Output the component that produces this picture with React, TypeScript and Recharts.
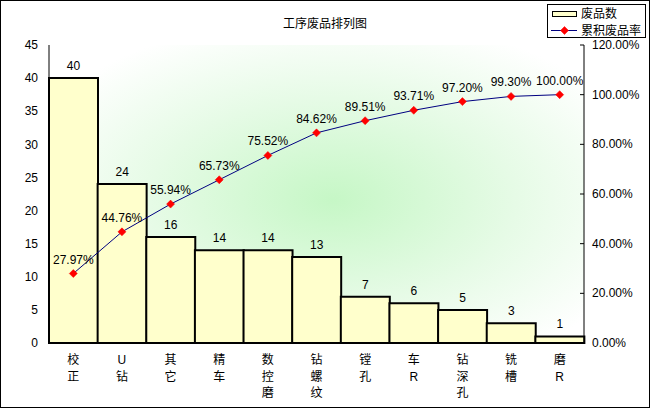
import { Bar, CartesianGrid, ComposedChart, LabelList, Legend, Line, XAxis, YAxis } from "recharts";

const FONT = "'Liberation Sans', 'Noto Sans CJK SC', sans-serif";

const categories = ["校正", "U钻", "其它", "精车", "数控磨", "钻螺纹", "镗孔", "车R", "钻深孔", "铣槽", "磨R"];
const counts = [40, 24, 16, 14, 14, 13, 7, 6, 5, 3, 1];
const rates = [27.97, 44.76, 55.94, 65.73, 75.52, 84.62, 89.51, 93.71, 97.2, 99.3, 100.0];
const countTicks = [0, 5, 10, 15, 20, 25, 30, 35, 40, 45];
const rateTicks = [0, 20, 40, 60, 80, 100, 120];

const data = categories.map((name, i) => ({ name, count: counts[i], rate: rates[i] }));

const pct = (v: number) => `${Number(v).toFixed(2)}%`;

function Diamond(props: any) {
  const { cx, cy } = props;
  if (cx == null || cy == null) return null;
  return (
    <polygon
      points={`${cx},${cy - 4} ${cx + 4},${cy} ${cx},${cy + 4} ${cx - 4},${cy}`}
      fill="#ff0000"
      stroke="#ff0000"
      strokeWidth={0.5}
    />
  );
}

function CategoryTick({ x, y, payload }: any) {
  const chars = Array.from(String(payload.value));
  return (
    <text x={x} y={y + 21} textAnchor="middle" fill="#000" fontSize={12} fontFamily={FONT}>
      {chars.map((c, i) => (
        <tspan key={i} x={x} dy={i === 0 ? 0 : 16.5}>
          {c}
        </tspan>
      ))}
    </text>
  );
}

function RateTick({ x, y, payload }: any) {
  return (
    <g>
      <line x1={x - 4} x2={x} y1={y} y2={y} stroke="#000" />
      <text x={x + 8} y={y} dy={4} fill="#000" fontSize={12} fontFamily={FONT}>
        {pct(payload.value)}
      </text>
    </g>
  );
}

function LegendBox() {
  return (
    <svg width={99} height={34} style={{ display: "block" }}>
      <rect x={0.5} y={0.5} width={98} height={33} fill="#fff" stroke="#000" />
      <rect x={5.5} y={7.5} width={24} height={5} fill="#ffffcc" stroke="#000" />
      <text x={34} y={14} fontSize={12} fontFamily={FONT} fill="#000">
        废品数
      </text>
      <line x1={4} x2={30} y1={26.5} y2={26.5} stroke="#000080" />
      <Diamond cx={17.5} cy={26.5} />
      <text x={34} y={31} fontSize={12} fontFamily={FONT} fill="#000">
        累积废品率
      </text>
    </svg>
  );
}

export default function App() {
  return (
    <div style={{ position: "absolute", left: 0, top: 0, width: 650, height: 408, background: "#fff" }}>
      <ComposedChart
        width={650}
        height={408}
        data={data}
        barCategoryGap={0}
        margin={{ top: 45, right: 0, bottom: 5, left: 0 }}
      >
        <defs>
          <radialGradient id="plotBg" cx="0.53" cy="0.52" r="0.62">
            <stop offset="0%" stopColor="#c6f7c6" />
            <stop offset="55%" stopColor="#e6fbe6" />
            <stop offset="100%" stopColor="#ffffff" />
          </radialGradient>
        </defs>
        <CartesianGrid horizontal={false} vertical={false} fill="url(#plotBg)" />
        <XAxis
          dataKey="name"
          height={60}
          axisLine={{ stroke: "#000" }}
          tickLine={false}
          tickSize={0}
          tickMargin={0}
          interval={0}
          tick={<CategoryTick />}
        />
        <XAxis
          xAxisId="top"
          dataKey="name"
          orientation="top"
          height={0}
          axisLine={{ stroke: "#808080" }}
          tickLine={false}
          tick={false}
        />
        <YAxis
          yAxisId="count"
          domain={[0, 45]}
          ticks={countTicks}
          width={49}
          axisLine={{ stroke: "#000" }}
          tickLine={false}
          tickSize={0}
          tickMargin={11}
          tick={{ fill: "#000", fontSize: 12, fontFamily: FONT }}
        />
        <YAxis
          yAxisId="rate"
          orientation="right"
          domain={[0, 120]}
          ticks={rateTicks}
          width={66}
          axisLine={{ stroke: "#000" }}
          tickLine={false}
          tickSize={0}
          tickMargin={0}
          tick={<RateTick />}
        />
        <Legend
          layout="vertical"
          align="center"
          verticalAlign="middle"
          wrapperStyle={{ top: 4, left: 547, width: 99, height: 34 }}
          content={<LegendBox />}
        />
        <Bar
          yAxisId="count"
          dataKey="count"
          name="废品数"
          fill="#ffffcc"
          stroke="#000"
          strokeWidth={2}
          isAnimationActive={false}
        >
          <LabelList dataKey="count" position="top" offset={8} fill="#000" fontSize={12} fontFamily={FONT} />
        </Bar>
        <Line
          yAxisId="rate"
          dataKey="rate"
          name="累积废品率"
          type="linear"
          stroke="#000080"
          strokeWidth={1}
          dot={<Diamond />}
          activeDot={false}
          isAnimationActive={false}
        >
          <LabelList
            dataKey="rate"
            position="top"
            offset={10}
            fill="#000"
            fontSize={12}
            fontFamily={FONT}
            formatter={(v: any) => pct(v)}
          />
        </Line>
      </ComposedChart>
      <div
        style={{
          position: "absolute",
          left: 0,
          top: 17,
          width: 650,
          textAlign: "center",
          fontFamily: FONT,
          fontSize: 12,
          lineHeight: "14px",
          color: "#000",
        }}
      >
        工序废品排列图
      </div>
      <div
        style={{
          position: "absolute",
          left: 0,
          top: 0,
          width: 650,
          height: 408,
          boxSizing: "border-box",
          border: "1px solid #000",
          pointerEvents: "none",
        }}
      />
    </div>
  );
}
